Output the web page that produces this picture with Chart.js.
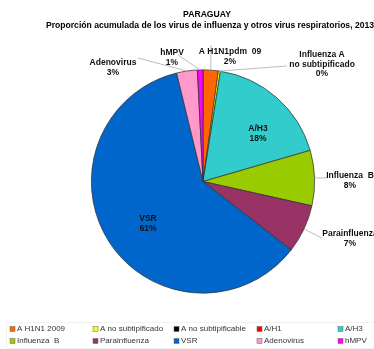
<!DOCTYPE html>
<html>
<head>
<meta charset="utf-8">
<script src="https://cdn.jsdelivr.net/npm/chart.js@4"></script>
<style>
  html, body { margin: 0; padding: 0; background: #fff; }
  #wrap { width: 374px; height: 349px; position: relative; }
</style>
</head>
<body>
<div id="wrap"><canvas id="pie" width="374" height="349"></canvas></div>
<script>
// Data
const categories = ['A H1N1 2009', 'A no subtipificado', 'A no subtipificable', 'A/H1', 'A/H3',
                    'Influenza  B', 'Parainfluenza', 'VSR', 'Adenovirus', 'hMPV'];
const shares = [2.2, 0.3, 0, 0, 18.0, 8.0, 7.0, 60.7, 3.0, 0.8];
const sliceColors = ['#FF6600', '#FFFF00', '#000000', '#FF0000', '#33CCCC',
                     '#99CC00', '#993366', '#0066CC', '#FF99CC', '#FF00FF'];
const sliceLabels = [['A H1N1pdm  09', '2%'], ['Influenza A', 'no subtipificado', '0%'], null, null,
                     ['A/H3', '18%'], ['Influenza  B', '8%'], ['Parainfluenza', '7%'],
                     ['VSR', '61%'], ['Adenovirus', '3%'], ['hMPV', '1%']];
const titleLines = ['PARAGUAY', 'Proporción acumulada de los virus de influenza y otros virus respiratorios, 2013'];

// label placement: [x, y of first line, leader line end x, y] (null = inside, no line)
const labelPos = [
  [230, 52, 211, 45], [322, 55, 287, 66], null, null,
  [258, 129, null, null], [350, 176, 327, 178], [350, 234, 322, 238],
  [148, 219, null, null], [113, 63, 138, 58], [172, 53, 178, 55]
];

const FONT = '"Liberation Sans", Arial, sans-serif';

const drawExtras = {
  id: 'drawExtras',
  afterDraw(chart) {
    const ctx = chart.ctx;
    const arcs = chart.getDatasetMeta(0).data;
    ctx.save();

    // title
    ctx.fillStyle = '#000';
    ctx.font = 'bold 8.6px ' + FONT;
    ctx.textAlign = 'center';
    ctx.textBaseline = 'middle';
    ctx.fillText(titleLines[0], 207, 15);
    ctx.fillText(titleLines[1], 210, 26);

    // slice labels and leader lines
    ctx.font = 'bold 8.5px ' + FONT;
    arcs.forEach((arc, i) => {
      const lp = labelPos[i];
      if (!lp || !sliceLabels[i]) return;
      const { x, y, startAngle, endAngle, outerRadius } = arc.getProps(['x', 'y', 'startAngle', 'endAngle', 'outerRadius'], true);
      if (lp[2] !== null) {
        const mid = (startAngle + endAngle) / 2;
        ctx.strokeStyle = '#bdbdbd';
        ctx.lineWidth = 1;
        ctx.beginPath();
        ctx.moveTo(x + Math.cos(mid) * outerRadius, y + Math.sin(mid) * outerRadius);
        ctx.lineTo(lp[2], lp[3]);
        ctx.stroke();
      }
      ctx.fillStyle = '#111';
      sliceLabels[i].forEach((t, k) => ctx.fillText(t, lp[0], lp[1] + k * 9.5));
    });

    // legend
    const colX = [10, 93, 174, 257, 338];
    const rowY = [329, 341];
    ctx.strokeStyle = '#f2f2f2';
    ctx.strokeRect(6.5, 322.5, 368, 26);
    ctx.font = '8px ' + FONT;
    ctx.textAlign = 'left';
    categories.forEach((c, i) => {
      const bx = colX[i % 5], by = rowY[Math.floor(i / 5)];
      ctx.fillStyle = sliceColors[i];
      ctx.fillRect(bx, by - 2.5, 5, 5);
      ctx.strokeStyle = '#666';
      ctx.lineWidth = 0.5;
      ctx.strokeRect(bx, by - 2.5, 5, 5);
      ctx.fillStyle = '#333';
      ctx.fillText(c, bx + 7, by);
    });
    ctx.restore();
  }
};

new Chart(document.getElementById('pie'), {
  type: 'pie',
  data: {
    labels: categories,
    datasets: [{
      data: shares,
      backgroundColor: sliceColors,
      borderColor: '#333',
      borderWidth: 0.75
    }]
  },
  options: {
    responsive: false,
    animation: false,
    layout: { padding: { left: 91, right: 59, top: 69, bottom: 55 } },
    plugins: { legend: { display: false }, tooltip: { enabled: false } }
  },
  plugins: [drawExtras]
});
</script>
</body>
</html>
